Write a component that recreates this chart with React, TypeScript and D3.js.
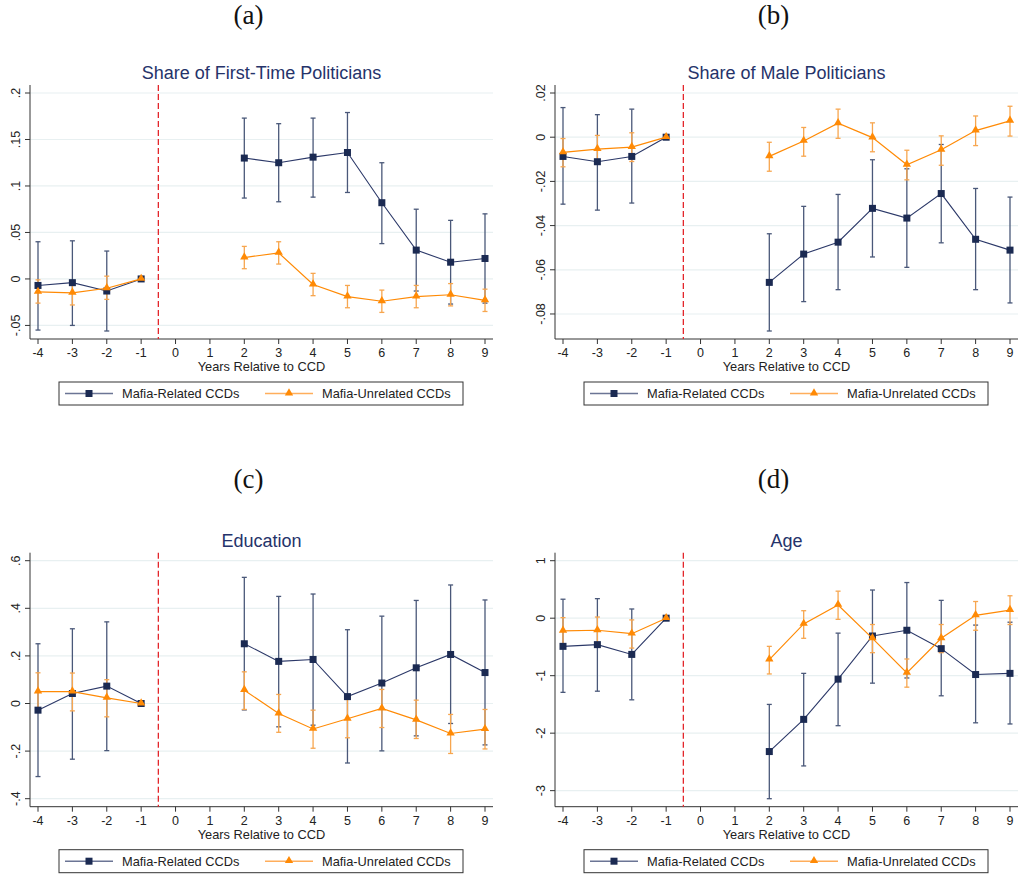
import * as d3 from 'd3';

// x positions (years relative to CCD)
const years = [-4, -3, -2, -1, 2, 3, 4, 5, 6, 7, 8, 9];
const xTickValues = [-4, -3, -2, -1, 0, 1, 2, 3, 4, 5, 6, 7, 8, 9];

// (a) Share of first-time politicians
const aRelated = [-0.007, -0.004, -0.013, 0, 0.130, 0.125, 0.131, 0.136, 0.082, 0.031, 0.018, 0.022];
const aRelatedLo = [-0.055, -0.050, -0.056, 0, 0.087, 0.083, 0.088, 0.093, 0.038, -0.013, -0.027, -0.026];
const aRelatedHi = [0.040, 0.041, 0.030, 0, 0.173, 0.167, 0.173, 0.179, 0.125, 0.075, 0.063, 0.070];
const aUnrelated = [-0.014, -0.015, -0.010, 0, 0.023, 0.028, -0.006, -0.019, -0.024, -0.019, -0.017, -0.023];
const aUnrelatedLo = [-0.026, -0.028, -0.022, 0, 0.011, 0.016, -0.018, -0.031, -0.036, -0.031, -0.029, -0.035];
const aUnrelatedHi = [-0.001, -0.003, 0.003, 0, 0.035, 0.040, 0.006, -0.007, -0.012, -0.007, -0.005, -0.011];
const aTicks = [-0.05, 0, 0.05, 0.1, 0.15, 0.2];
const aTickLabels = ['-.05', '0', '.05', '.1', '.15', '.2'];

// (b) Share of male politicians
const bRelated = [-0.0087, -0.0111, -0.0087, 0, -0.0657, -0.0529, -0.0475, -0.0322, -0.0366, -0.0255, -0.0462, -0.0511];
const bRelatedLo = [-0.0303, -0.0330, -0.0298, 0, -0.0877, -0.0744, -0.0690, -0.0542, -0.0589, -0.0478, -0.0690, -0.0750];
const bRelatedHi = [0.0134, 0.0102, 0.0127, 0, -0.0437, -0.0313, -0.0259, -0.0102, -0.0143, -0.0033, -0.0232, -0.0271];
const bUnrelated = [-0.0069, -0.0054, -0.0045, 0, -0.0087, -0.0017, 0.0063, -0.0002, -0.0125, -0.0057, 0.0030, 0.0074];
const bUnrelatedLo = [-0.0134, -0.0119, -0.0110, 0, -0.0154, -0.0086, -0.0005, -0.0066, -0.0193, -0.0127, -0.0038, 0.0005];
const bUnrelatedHi = [-0.0006, 0.0008, 0.0020, 0, -0.0023, 0.0044, 0.0127, 0.0065, -0.0059, 0.0006, 0.0096, 0.0140];
const bTicks = [-0.08, -0.06, -0.04, -0.02, 0, 0.02];
const bTickLabels = ['-.08', '-.06', '-.04', '-.02', '0', '.02'];

// (c) Education
const cRelated = [-0.028, 0.042, 0.073, 0, 0.251, 0.177, 0.185, 0.029, 0.086, 0.150, 0.206, 0.130];
const cRelatedLo = [-0.307, -0.234, -0.198, 0, -0.027, -0.098, -0.091, -0.250, -0.199, -0.136, -0.084, -0.174];
const cRelatedHi = [0.251, 0.314, 0.343, 0, 0.530, 0.450, 0.460, 0.310, 0.367, 0.433, 0.498, 0.435];
const cUnrelated = [0.050, 0.050, 0.024, 0, 0.056, -0.042, -0.107, -0.064, -0.021, -0.069, -0.126, -0.108];
const cUnrelatedLo = [-0.030, -0.031, -0.056, 0, -0.025, -0.121, -0.188, -0.144, -0.101, -0.147, -0.210, -0.191];
const cUnrelatedHi = [0.129, 0.128, 0.100, 0, 0.133, 0.038, -0.028, 0.017, 0.059, 0.014, -0.046, -0.025];
const cTicks = [-0.4, -0.2, 0, 0.2, 0.4, 0.6];
const cTickLabels = ['-.4', '-.2', '0', '.2', '.4', '.6'];

// (d) Age
const dRelated = [-0.49, -0.46, -0.63, 0, -2.32, -1.76, -1.06, -0.31, -0.21, -0.53, -0.98, -0.96];
const dRelatedLo = [-1.29, -1.27, -1.42, 0, -3.14, -2.57, -1.87, -1.13, -1.04, -1.35, -1.82, -1.84];
const dRelatedHi = [0.33, 0.34, 0.16, 0, -1.50, -0.96, -0.26, 0.49, 0.62, 0.31, -0.12, -0.07];
const dUnrelated = [-0.22, -0.21, -0.27, 0, -0.72, -0.10, 0.23, -0.35, -0.95, -0.35, 0.05, 0.14];
const dUnrelatedLo = [-0.45, -0.45, -0.52, 0, -0.97, -0.35, -0.02, -0.60, -1.20, -0.60, -0.21, -0.11];
const dUnrelatedHi = [0.01, 0.02, -0.03, 0, -0.49, 0.13, 0.47, -0.11, -0.71, -0.11, 0.29, 0.39];
const dTicks = [-3, -2, -1, 0, 1];
const dTickLabels = ['-3', '-2', '-1', '0', '1'];

const NAVY = '#1b2a52';
const NAVY_LINE = '#2b3868';
const NAVY_CI = '#4a5879';
const ORANGE = '#ff8a05';
const ORANGE_CI = '#f7a64f';
const TITLE = '#25336a';
const FONT = '"Liberation Sans", Arial, sans-serif';

const plotW = 463;
const plotH = 254;

interface Series {
  est: number[];
  lo: number[];
  hi: number[];
}

interface PanelProps {
  label: string;
  labelY: number;
  title: string;
  left: number;
  top: number;
  ticks: number[];
  tickLabels: string[];
  related: Series;
  unrelated: Series;
}

function Panel({ label, labelY, title, left, top, ticks, tickLabels, related, unrelated }: PanelProps) {
  const x = d3.scaleLinear().domain([-4, 9]).range([8, plotW - 8]);
  const ext = d3.extent([...ticks, ...related.lo, ...related.hi, ...unrelated.lo, ...unrelated.hi]) as [number, number];
  const y = d3.scaleLinear().domain(ext).range([plotH - 8, 8]);

  const pre = years.map((yr, i) => ({ yr, i })).filter(d => d.yr < 0);
  const post = years.map((yr, i) => ({ yr, i })).filter(d => d.yr > 0);

  const lineFor = (s: Series) => d3.line<{ yr: number; i: number }>()
    .x(d => x(d.yr))
    .y(d => y(s.est[d.i]));

  const caps = (s: Series, color: string) => years.map((yr, i) => {
    const cx = x(yr);
    return (
      <g key={`ci-${i}`} stroke={color} strokeWidth={1.3}>
        <line x1={cx} x2={cx} y1={y(s.lo[i])} y2={y(s.hi[i])} />
        <line x1={cx - 2.5} x2={cx + 2.5} y1={y(s.lo[i])} y2={y(s.lo[i])} />
        <line x1={cx - 2.5} x2={cx + 2.5} y1={y(s.hi[i])} y2={y(s.hi[i])} />
      </g>
    );
  });

  const tri = d3.symbol().type(d3.symbolTriangle).size(30)();

  return (
    <g>
      <text x={left + plotW / 2 - 13} y={labelY} textAnchor="middle"
        fontFamily='"Liberation Serif", "DejaVu Serif", serif' fontSize={27} fill="#111">{label}</text>
      <text x={left + plotW / 2} y={top - 6} textAnchor="middle" fontFamily={FONT}
        fontSize={18} fill={TITLE}>{title}</text>
      <g transform={`translate(${left},${top})`}>
        {/* grid */}
        {ticks.map(t => (
          <line key={`g${t}`} x1={0} x2={plotW} y1={y(t)} y2={y(t)} stroke="#e8f0f1" strokeWidth={1.2} />
        ))}
        {/* axes */}
        <line x1={0} x2={0} y1={0} y2={plotH} stroke="#333" strokeWidth={1} />
        <line x1={0} x2={plotW} y1={plotH} y2={plotH} stroke="#333" strokeWidth={1} />
        {ticks.map((t, k) => (
          <g key={`yt${t}`}>
            <line x1={-5} x2={0} y1={y(t)} y2={y(t)} stroke="#333" />
            <text transform={`translate(${-10},${y(t)}) rotate(-90)`} textAnchor="middle"
              fontFamily={FONT} fontSize={12.5} fill="#222">{tickLabels[k]}</text>
          </g>
        ))}
        {xTickValues.map(t => (
          <g key={`xt${t}`}>
            <line x1={x(t)} x2={x(t)} y1={plotH} y2={plotH + 5} stroke="#333" />
            <text x={x(t)} y={plotH + 18} textAnchor="middle" fontFamily={FONT}
              fontSize={12.5} fill="#222">{t}</text>
          </g>
        ))}
        <text x={plotW / 2} y={plotH + 32} textAnchor="middle" fontFamily={FONT}
          fontSize={12.8} fill="#222">Years Relative to CCD</text>

        {/* CCD line */}
        <line x1={x(-0.5)} x2={x(-0.5)} y1={0} y2={plotH} stroke="#e3262b" strokeWidth={1.3} strokeDasharray="6,3" />

        {caps(related, NAVY_CI)}
        {caps(unrelated, ORANGE_CI)}

        <path d={lineFor(related)(pre) ?? ''} fill="none" stroke={NAVY_LINE} strokeWidth={1.1} />
        <path d={lineFor(related)(post) ?? ''} fill="none" stroke={NAVY_LINE} strokeWidth={1.1} />
        {years.map((yr, i) => (
          <rect key={`sq${i}`} x={x(yr) - 3.5} y={y(related.est[i]) - 3.5} width={7} height={7} fill={NAVY} />
        ))}

        <path d={lineFor(unrelated)(pre) ?? ''} fill="none" stroke={ORANGE} strokeWidth={1.2} />
        <path d={lineFor(unrelated)(post) ?? ''} fill="none" stroke={ORANGE} strokeWidth={1.2} />
        {years.map((yr, i) => (
          <path key={`tr${i}`} d={tri ?? ''} transform={`translate(${x(yr)},${y(unrelated.est[i]) - 0.5})`} fill={ORANGE} />
        ))}

        {/* legend */}
        <g transform={`translate(29,${plotH + 43})`}>
          <rect x={0} y={0} width={404} height={23} fill="#fff" stroke="#333" strokeWidth={1} />
          <line x1={6} x2={54} y1={11.5} y2={11.5} stroke="#6b7595" strokeWidth={1.5} />
          <rect x={26.5} y={8} width={7} height={7} fill={NAVY} />
          <text x={63} y={16} fontFamily={FONT} fontSize={12.8} fill="#222">Mafia-Related CCDs</text>
          <line x1={206} x2={254} y1={11.5} y2={11.5} stroke="#ffae5c" strokeWidth={1.5} />
          <path d={tri ?? ''} transform="translate(230,11)" fill={ORANGE} />
          <text x={263} y={16} fontFamily={FONT} fontSize={12.8} fill="#222">Mafia-Unrelated CCDs</text>
        </g>
      </g>
    </g>
  );
}

export default function App() {
  const lefts = [30, 555];
  const tops = [85, 552.7];
  const labelYs = [24, 488];
  return (
    <svg width={1018} height={875} style={{ display: 'block', position: 'absolute', left: 0, top: 0, background: '#fff' }}>
      <rect width={1018} height={875} fill="#fff" />
      <Panel label="(a)" labelY={labelYs[0]} title="Share of First-Time Politicians" left={lefts[0]} top={tops[0]}
        ticks={aTicks} tickLabels={aTickLabels}
        related={{ est: aRelated, lo: aRelatedLo, hi: aRelatedHi }}
        unrelated={{ est: aUnrelated, lo: aUnrelatedLo, hi: aUnrelatedHi }} />
      <Panel label="(b)" labelY={labelYs[0]} title="Share of Male Politicians" left={lefts[1]} top={tops[0]}
        ticks={bTicks} tickLabels={bTickLabels}
        related={{ est: bRelated, lo: bRelatedLo, hi: bRelatedHi }}
        unrelated={{ est: bUnrelated, lo: bUnrelatedLo, hi: bUnrelatedHi }} />
      <Panel label="(c)" labelY={labelYs[1]} title="Education" left={lefts[0]} top={tops[1]}
        ticks={cTicks} tickLabels={cTickLabels}
        related={{ est: cRelated, lo: cRelatedLo, hi: cRelatedHi }}
        unrelated={{ est: cUnrelated, lo: cUnrelatedLo, hi: cUnrelatedHi }} />
      <Panel label="(d)" labelY={labelYs[1]} title="Age" left={lefts[1]} top={tops[1]}
        ticks={dTicks} tickLabels={dTickLabels}
        related={{ est: dRelated, lo: dRelatedLo, hi: dRelatedHi }}
        unrelated={{ est: dUnrelated, lo: dUnrelatedLo, hi: dUnrelatedHi }} />
    </svg>
  );
}
